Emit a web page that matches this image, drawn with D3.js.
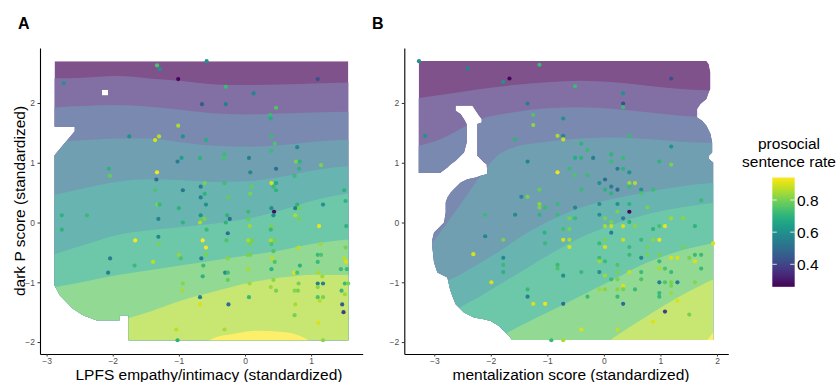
<!DOCTYPE html>
<html>
<head>
<meta charset="utf-8">
<script src="https://cdn.jsdelivr.net/npm/d3@7"></script>
<style>
  body { margin: 0; background: #fff; }
  svg { display: block; font-family: "Liberation Sans", Arial, sans-serif; }
</style>
</head>
<body>
<script>
// ---- values ----
var xTicksA = [-3, -2, -1, 0, 1];
var xTicksB = [-3, -2, -1, 0, 1, 2];
var yTicks = [-2, -1, 0, 1, 2];
var legendTicks = [0.4, 0.6, 0.8];
var rateRange = [0.26, 0.94];
var bandCount = 9;

// region where the smooth surface is drawn (panel A has a one-cell hole)
var outlineA = [[-2.88,2.70],[1.563,2.70],[1.563,-1.972],[-1.76,-1.972],[-1.76,-1.553],[-1.896,-1.553],
  [-1.896,-1.637],[-2.248,-1.637],[-2.449,-1.553],[-2.60,-1.441],[-2.70,-1.33],[-2.80,-1.218],[-2.88,-1.05],
  [-2.88,1.127],[-2.575,1.529],[-2.575,1.602],[-2.88,1.602]];
var holeA = [[-2.163,2.221],[-2.072,2.221],[-2.072,2.126],[-2.163,2.126]];

var outlineB = [[-3.275,2.703],[1.814,2.703],[1.855,2.652],[1.885,2.513],[1.885,2.234],[1.855,2.178],
  [1.814,2.066],[1.708,1.982],[1.649,1.899],[1.649,1.759],[1.737,1.703],[1.814,1.620],[1.885,1.480],
  [1.914,1.340],[1.914,1.173],[1.855,1.117],[1.855,1.061],[1.932,1.005],[1.932,-1.965],[-1.637,-1.965],
  [-1.649,-1.926],[-1.737,-1.842],[-1.855,-1.731],[-2.002,-1.647],[-2.120,-1.619],[-2.297,-1.591],
  [-2.474,-1.507],[-2.621,-1.368],[-2.680,-1.228],[-2.721,-1.116],[-2.768,-0.921],[-2.945,-0.837],
  [-3.004,-0.670],[-3.033,-0.419],[-3.033,-0.279],[-3.004,-0.167],[-2.945,-0.111],[-2.827,0.000],
  [-2.798,0.168],[-2.798,0.335],[-2.768,0.419],[-2.709,0.503],[-2.650,0.559],[-2.533,0.670],
  [-2.415,0.726],[-2.267,0.754],[-2.179,0.782],[-2.061,0.810],[-2.073,0.977],[-2.120,1.005],
  [-2.179,1.061],[-2.238,1.117],[-2.238,1.647],[-2.161,1.675],[-2.161,1.731],[-2.209,1.787],
  [-2.267,1.871],[-2.326,1.955],[-2.621,1.955],[-2.621,1.871],[-2.533,1.815],[-2.474,1.731],
  [-2.426,1.647],[-2.426,1.340],[-2.474,1.173],[-2.533,1.117],[-2.621,1.033],[-2.709,0.977],
  [-2.768,0.922],[-2.886,0.838],[-2.898,0.827],[-3.275,0.827]];

// contour band edges, top to bottom
var edgesA = [
  [[-3.0,2.411],[-2.45,2.422],[-1.95,2.450],[-1.45,2.411],[-0.95,2.367],[-0.45,2.311],[0.05,2.300],[0.55,2.311],[1.05,2.327],[1.7,2.344]],
  [[-3.0,1.920],[-2.45,1.948],[-1.95,1.965],[-1.45,1.937],[-0.95,1.881],[-0.45,1.825],[0.05,1.808],[0.55,1.825],[1.05,1.842],[1.7,1.853]],
  [[-3.0,1.350],[-2.45,1.378],[-1.95,1.406],[-1.45,1.406],[-0.95,1.339],[-0.45,1.283],[0.05,1.267],[0.55,1.295],[1.05,1.350],[1.7,1.395]],
  [[-3.0,0.429],[-2.45,0.569],[-1.95,0.680],[-1.45,0.725],[-0.95,0.708],[-0.45,0.680],[0.05,0.691],[0.55,0.764],[1.05,0.876],[1.7,0.960]],
  [[-3.0,-0.576],[-2.45,-0.381],[-1.95,-0.213],[-1.45,-0.129],[-0.95,-0.074],[-0.45,-0.018],[0.05,0.066],[0.55,0.206],[1.05,0.373],[1.7,0.513]],
  [[-3.0,-1.106],[-2.45,-0.995],[-1.95,-0.883],[-1.45,-0.799],[-0.95,-0.716],[-0.45,-0.632],[0.05,-0.548],[0.55,-0.464],[1.05,-0.353],[1.7,-0.269]],
  [[-3.0,-2.11],[-2.45,-1.832],[-1.95,-1.665],[-1.45,-1.497],[-0.95,-1.302],[-0.45,-1.151],[0.05,-1.012],[0.55,-0.922],[1.05,-0.872],[1.7,-0.883]],
  [[-3.0,-3.3],[-1.45,-2.5],[-0.69,-2.06],[-0.44,-1.92],[-0.19,-1.866],[0.17,-1.81],[0.57,-1.832],[0.87,-1.916],[1.07,-2.056],[1.7,-2.5]]
];

var edgesB = [
  [[-3.4,2.066],[-2.768,2.150],[-2.179,2.234],[-1.590,2.301],[-1.001,2.345],[-0.412,2.373],[0.177,2.345],[0.766,2.290],[1.354,2.234],[2.0,2.206]],
  [[-3.4,1.257],[-2.886,1.396],[-2.650,1.508],[-2.179,1.731],[-1.590,1.843],[-1.001,1.910],[-0.412,1.927],[0.177,1.899],[0.766,1.843],[1.354,1.787],[2.0,1.759]],
  [[-3.4,-0.670],[-3.033,-0.335],[-2.768,0.000],[-2.474,0.391],[-2.179,0.782],[-1.885,1.117],[-1.590,1.257],[-1.001,1.351],[-0.412,1.407],[0.177,1.424],[0.766,1.396],[1.354,1.351],[2.0,1.329]],
  [[-3.4,-1.452],[-3.004,-1.116],[-2.474,-0.837],[-1.885,-0.502],[-1.296,-0.139],[-0.707,0.140],[-0.118,0.335],[0.471,0.458],[1.060,0.559],[1.649,0.642],[2.0,0.670]],
  [[-3.4,-2.233],[-2.591,-1.452],[-2.179,-1.228],[-1.590,-0.893],[-1.001,-0.558],[-0.412,-0.251],[0.177,-0.028],[0.766,0.140],[1.354,0.251],[2.0,0.335]],
  [[-3.4,-3.3],[-2.768,-2.79],[-2.179,-2.121],[-1.590,-1.786],[-1.001,-1.507],[-0.412,-1.228],[0.177,-0.949],[0.766,-0.670],[1.354,-0.474],[2.0,-0.335]],
  [[-3.4,-3.5],[-1.001,-2.79],[-0.412,-2.456],[-0.118,-2.121],[0.177,-1.926],[0.766,-1.563],[1.354,-1.228],[2.0,-0.921]],
  [[1.5,-2.4],[1.83,-1.965],[2.0,-1.76]]
];

// participants: [x, dark P score, prosocial sentence rate]
var pointsA = [
  [-1.33,2.63,0.75],[-1.29,2.57,0.60],[-0.58,2.70,0.60],[-2.74,2.33,0.60],[-1.01,2.40,0.27],[1.10,2.40,0.42],[-0.29,2.27,0.72],[0.13,2.16,0.57],[-0.65,1.98,0.45],[-0.29,1.98,0.55],
  [0.47,1.92,0.75],[0.38,1.80,0.72],[0.39,1.74,0.68],[-1.01,1.62,0.85],[-1.75,1.44,0.60],[-1.30,1.44,0.87],[-1.36,1.38,0.90],[-0.94,1.44,0.60],[-0.59,1.38,0.68],[0.40,1.44,0.72],
  [0.45,1.32,0.75],[0.79,1.26,0.58],[0.40,1.20,0.72],[-0.31,1.14,0.72],[-0.32,1.08,0.74],[-0.68,1.08,0.70],[-0.96,1.08,0.65],[-1.02,1.02,0.55],[0.06,1.08,0.55],[0.77,1.02,0.80],
  [0.83,1.02,0.70],[1.15,0.96,0.80],[-2.06,0.90,0.70],[-2.04,0.78,0.78],[-1.33,0.84,0.93],[-1.34,0.72,0.50],[0.08,0.84,0.58],[0.47,0.90,0.50],[0.82,0.90,0.70],[0.75,0.78,0.72],
  [-0.61,0.66,0.80],[-0.31,0.66,0.73],[0.40,0.66,0.90],[0.47,0.66,0.67],[-0.67,0.60,0.55],[-0.94,0.54,0.52],[-1.36,0.54,0.75],[0.10,0.60,0.78],[0.43,0.60,0.72],[0.47,0.54,0.70],
  [0.08,0.48,0.80],[1.50,0.54,0.70],[-0.61,0.48,0.70],[-0.67,0.42,0.57],[-0.25,0.42,0.78],[1.52,0.36,0.70],[-0.59,0.30,0.60],[-1.33,0.30,0.80],[-1.29,0.30,0.72],[-1.00,0.24,0.70],
  [0.79,0.30,0.70],[0.76,0.24,0.55],[0.82,0.24,0.80],[1.18,0.30,0.60],[0.40,0.24,0.60],[0.44,0.18,0.28],[-2.77,0.12,0.70],[-2.39,0.12,0.72],[-0.67,0.12,0.60],[-0.65,0.06,0.78],
  [-0.61,0.06,0.80],[-1.31,0.06,0.57],[-0.23,0.06,0.50],[-0.27,0.12,0.70],[0.05,0.18,0.72],[0.05,0.06,0.78],[0.43,0.12,0.60],[0.76,0.12,0.85],[0.82,0.06,0.80],[-0.94,0.00,0.70],
  [-0.68,0.00,0.85],[-0.29,0.00,0.70],[0.07,-0.06,0.84],[0.40,-0.06,0.80],[1.12,-0.06,0.92],[1.53,-0.06,0.70],[-2.77,-0.12,0.70],[-0.58,-0.12,0.72],[-0.26,-0.18,0.50],[0.39,-0.12,0.72],
  [-1.31,-0.24,0.58],[-1.66,-0.30,0.93],[-1.30,-0.36,0.80],[-0.64,-0.30,0.94],[-0.59,-0.42,0.93],[-0.28,-0.30,0.75],[0.05,-0.30,0.85],[0.11,-0.30,0.80],[0.39,-0.30,0.85],[0.45,-0.30,0.80],
  [0.08,-0.36,0.80],[0.40,-0.36,0.75],[0.81,-0.42,0.87],[1.14,-0.36,0.84],[1.52,-0.42,0.80],[-2.04,-0.60,0.55],[-2.07,-0.84,0.55],[-1.67,-0.72,0.72],[-1.39,-0.66,0.87],[-1.00,-0.54,0.83],
  [-0.97,-0.60,0.75],[-0.66,-0.60,0.55],[-0.59,-0.54,0.80],[-0.63,-0.72,0.72],[-0.64,-0.90,0.70],[-0.26,-0.60,0.82],[-0.30,-0.84,0.58],[-0.26,-0.84,0.72],[-0.26,-0.96,0.78],[0.04,-0.54,0.80],
  [0.08,-0.54,0.80],[0.05,-0.78,0.85],[0.07,-1.02,0.84],[0.43,-0.48,0.75],[0.41,-0.60,0.87],[0.45,-0.66,0.75],[0.40,-0.78,0.70],[0.43,-0.96,0.82],[0.39,-1.08,0.84],[0.47,-1.14,0.80],
  [0.83,-0.72,0.70],[0.74,-0.84,0.90],[0.79,-0.84,0.75],[0.81,-1.02,0.80],[0.75,-1.14,0.82],[0.80,-1.14,0.80],[1.10,-0.54,0.72],[1.15,-0.54,0.75],[1.10,-0.66,0.72],[1.11,-0.84,0.85],
  [1.17,-0.90,0.84],[1.10,-1.02,0.55],[1.18,-1.02,0.55],[1.10,-1.08,0.82],[1.10,-1.25,0.75],[1.18,-1.25,0.80],[1.13,-1.31,0.87],[1.50,-0.60,0.87],[1.53,-0.66,0.90],[1.45,-0.78,0.72],
  [1.54,-0.78,0.72],[1.51,-1.02,0.72],[1.56,-1.02,0.80],[1.46,-1.14,0.72],[1.51,-1.20,0.84],[1.47,-1.37,0.45],[1.49,-1.50,0.38],[-0.94,-1.02,0.82],[-0.95,-1.14,0.85],[-0.68,-1.25,0.55],
  [-0.68,-1.37,0.90],[-0.25,-1.37,0.50],[0.06,-1.25,0.72],[0.76,-1.37,0.85],[0.75,-1.55,0.80],[1.11,-1.68,0.90],[-1.04,-1.79,0.87],[-0.31,-1.79,0.85],[-1.02,-1.97,0.70],[1.18,-1.97,0.82]
];

var pointsB = [
  [-3.27,2.70,0.60],[-2.41,2.58,0.57],[-1.14,2.64,0.72],[-1.67,2.41,0.27],[-1.78,2.35,0.60],[1.19,2.41,0.42],[-0.51,2.28,0.72],[0.34,2.16,0.60],[-1.35,1.99,0.55],[0.34,1.99,0.42],
  [0.34,1.93,0.72],[-1.25,1.80,0.75],[-0.72,1.74,0.60],[-1.25,1.63,0.82],[-3.16,1.45,0.60],[-0.82,1.45,0.85],[-0.72,1.45,0.57],[-0.72,1.39,0.88],[-1.57,1.39,0.70],[0.45,1.45,0.72],
  [-0.40,1.32,0.70],[1.19,1.27,0.60],[-0.29,1.21,0.72],[0.13,1.14,0.70],[-0.51,1.08,0.68],[-0.40,1.08,0.70],[-0.19,1.08,0.55],[0.34,1.08,0.72],[0.13,1.02,0.72],[-1.35,1.02,0.57],
  [0.98,1.02,0.70],[1.19,0.97,0.80],[-0.82,0.84,0.92],[-0.61,0.90,0.72],[0.24,0.90,0.55],[0.34,0.90,0.70],[0.45,0.84,0.60],[-0.51,0.79,0.75],[-0.29,0.79,0.72],[0.02,0.72,0.50],
  [-0.08,0.66,0.60],[0.13,0.60,0.55],[0.45,0.66,0.84],[0.55,0.66,0.86],[0.45,0.60,0.72],[0.02,0.55,0.70],[0.24,0.55,0.50],[-0.40,0.55,0.72],[0.13,0.49,0.70],[0.66,0.55,0.60],
  [0.87,0.55,0.72],[0.66,0.49,0.75],[-1.14,0.55,0.78],[-1.46,0.43,0.58],[-1.35,0.43,0.80],[1.72,0.37,0.72],[-1.14,0.31,0.82],[-1.14,0.25,0.80],[-1.04,0.25,0.72],[-0.82,0.31,0.72],
  [-0.51,0.25,0.57],[-0.08,0.31,0.60],[0.24,0.31,0.60],[0.45,0.31,0.70],[0.24,0.18,0.80],[0.45,0.18,0.27],[0.77,0.25,0.80],[-2.10,0.13,0.72],[-1.57,0.13,0.58],[-1.14,0.13,0.70],
  [-0.82,0.13,0.72],[-0.08,0.13,0.60],[-0.61,0.07,0.80],[-0.51,0.07,0.72],[0.02,0.07,0.80],[0.34,0.07,0.55],[0.13,0.01,0.80],[0.45,0.01,0.70],[0.02,-0.06,0.85],[0.13,-0.06,0.88],
  [0.34,-0.06,0.90],[0.55,-0.06,0.82],[1.19,0.07,0.84],[1.40,0.07,0.82],[0.98,-0.06,0.74],[1.08,-0.06,0.92],[1.61,-0.06,0.70],[-0.72,-0.11,0.74],[-0.61,-0.11,0.80],[-1.05,-0.17,0.70],
  [0.13,-0.17,0.55],[0.87,-0.11,0.70],[-2.10,-0.23,0.57],[-1.78,-0.29,0.80],[-0.72,-0.29,0.90],[-0.61,-0.29,0.85],[-0.08,-0.35,0.72],[0.02,-0.29,0.80],[0.34,-0.29,0.88],[0.66,-0.29,0.72],
  [0.87,-0.29,0.82],[0.98,-0.29,0.92],[-1.04,-0.35,0.72],[-0.61,-0.41,0.90],[0.02,-0.41,0.90],[0.45,-0.41,0.72],[0.77,-0.41,0.80],[1.40,-0.41,0.80],[1.93,-0.35,0.90],[-2.31,-0.53,0.90],
  [-1.78,-0.59,0.58],[-1.78,-0.71,0.72],[-1.78,-0.83,0.70],[-0.82,-0.71,0.72],[-0.82,-0.77,0.75],[-0.08,-0.59,0.72],[-0.08,-0.65,0.84],[0.02,-0.65,0.72],[0.24,-0.71,0.75],[0.45,-0.54,0.72],
  [0.66,-0.59,0.57],[0.77,-0.54,0.80],[0.98,-0.54,0.80],[0.98,-0.65,0.72],[1.19,-0.59,0.90],[1.30,-0.59,0.90],[1.51,-0.59,0.80],[1.61,-0.54,0.72],[1.72,-0.54,0.72],[1.61,-0.65,0.90],
  [1.72,-0.77,0.72],[0.98,-0.77,0.85],[1.08,-0.77,0.75],[1.19,-0.83,0.72],[0.66,-0.83,0.72],[0.45,-0.83,0.88],[0.24,-0.83,0.80],[-0.08,-0.83,0.60],[-0.40,-0.83,0.72],[-0.72,-0.89,0.60],
  [0.02,-0.89,0.84],[0.13,-0.95,0.72],[0.24,-0.95,0.80],[0.34,-1.06,0.90],[0.66,-0.95,0.75],[-1.99,-1.00,0.90],[0.98,-1.00,0.55],[1.08,-1.00,0.75],[1.19,-1.00,0.80],[1.30,-1.00,0.55],
  [1.61,-1.00,0.82],[1.19,-1.06,0.80],[-1.35,-1.12,0.72],[-1.35,-1.24,0.55],[-0.29,-1.24,0.72],[-0.08,-1.12,0.84],[0.02,-1.12,0.82],[0.24,-1.12,0.82],[0.34,-1.12,0.80],[0.24,-1.24,0.72],
  [0.55,-1.12,0.72],[0.98,-1.18,0.72],[0.98,-1.24,0.72],[1.19,-1.18,0.84],[-1.25,-1.36,0.90],[-1.04,-1.36,0.92],[-0.72,-1.36,0.50],[0.34,-1.36,0.50],[1.30,-1.31,0.90],[1.08,-1.49,0.38],
  [1.51,-1.54,0.80],[0.87,-1.66,0.90],[-0.40,-1.79,0.90],[0.24,-1.79,0.88],[-0.93,-1.97,0.72],[-0.72,-1.97,0.85]
];

// ---- drawing ----
var W = 840, H = 382;
var svg = d3.select("body").append("svg").attr("width", W).attr("height", H);
var defs = svg.append("defs");

var rateColor = d3.scaleSequential(d3.interpolateViridis).domain(rateRange);
var bandScale = d3.scaleSequential(d3.interpolateViridis).domain([0, bandCount - 1]);
function bandColor(i) {
    // contour fill is drawn at ~68% opacity over white
    return d3.interpolateRgb("#ffffff", bandScale(i))(0.68);
}

var yDomain = [-2.2, 2.92];
var tickFmt = d3.format("d");

function drawPanel(o) {
    var x = d3.scaleLinear().domain(o.xDomain).range(o.xRange);
    var y = d3.scaleLinear().domain(yDomain).range([354, 48]);
    var g = svg.append("g");

    var line = d3.line().x(function(d) { return x(d[0]); }).y(function(d) { return y(d[1]); });
    var clipD = line(o.outline) + "Z" + (o.hole ? line(o.hole) + "Z" : "");
    defs.append("clipPath").attr("id", o.id)
        .append("path").attr("d", clipD).attr("clip-rule", "evenodd");

    var fills = g.append("g").attr("clip-path", "url(#" + o.id + ")");
    fills.append("path").attr("d", clipD).attr("fill", bandColor(0));

    var area = d3.area()
        .x(function(d) { return x(d[0]); })
        .y0(y(-4))
        .y1(function(d) { return y(d[1]); })
        .curve(d3.curveMonotoneX);

    fills.selectAll("path.band").data(o.edges).join("path")
        .attr("class", "band")
        .attr("d", area)
        .attr("fill", function(d, i) { return bandColor(i + 1); });

    g.append("g").selectAll("circle").data(o.points).join("circle")
        .attr("cx", function(d) { return x(d[0]); })
        .attr("cy", function(d) { return y(d[1]); })
        .attr("r", 2.1)
        .attr("fill", function(d) { return rateColor(d[2]); });

    var xa = g.append("g").attr("transform", "translate(0," + y.range()[0] + ")")
        .call(d3.axisBottom(x).tickValues(o.xTicks).tickSize(2.5).tickSizeOuter(0).tickPadding(1).tickFormat(tickFmt));
    var ya = g.append("g").attr("transform", "translate(" + x.range()[0] + ",0)")
        .call(d3.axisLeft(y).tickValues(yTicks).tickSize(2.5).tickSizeOuter(0).tickPadding(2.5).tickFormat(tickFmt));
    [xa, ya].forEach(function(a) {
        a.select(".domain").attr("stroke", "#000").attr("stroke-width", 1.1);
        a.selectAll(".tick line").attr("stroke", "#333");
        a.selectAll(".tick text").attr("fill", "#4d4d4d").style("font-size", "8.5px")
            .style("font-family", '"Liberation Sans", Arial, sans-serif');
    });

    g.append("text").attr("x", o.titleX).attr("y", 380)
        .attr("text-anchor", "middle").style("font-size", "15.5px").text(o.title);
    g.append("text").attr("x", o.labelX).attr("y", 28.5)
        .style("font-size", "16px").style("font-weight", "bold").text(o.label);
}

drawPanel({
    id: "clipA", label: "A", labelX: 18,
    xDomain: [-3.1, 1.78], xRange: [40, 362.7], xTicks: xTicksA,
    outline: outlineA, hole: holeA, edges: edgesA, points: pointsA,
    title: "LPFS empathy/intimacy (standardized)", titleX: 209
});
drawPanel({
    id: "clipB", label: "B", labelX: 372,
    xDomain: [-3.53, 2.2], xRange: [404.3, 728.3], xTicks: xTicksB,
    outline: outlineB, edges: edgesB, points: pointsB,
    title: "mentalization score (standardized)", titleX: 571
});

svg.append("text")
    .attr("transform", "translate(25.4,201) rotate(-90)")
    .attr("text-anchor", "middle").style("font-size", "15.5px")
    .text("dark P score (standardized)");

// ---- legend ----
var lg = svg.append("g");
var ly = d3.scaleLinear().domain(rateRange).range([286.8, 177.5]);
var grad = defs.append("linearGradient").attr("id", "rateGrad")
    .attr("x1", 0).attr("y1", 1).attr("x2", 0).attr("y2", 0);
grad.selectAll("stop").data(d3.range(0, 1.0001, 0.05)).join("stop")
    .attr("offset", function(d) { return d; })
    .attr("stop-color", function(d) { return d3.interpolateViridis(d); });

lg.append("text").attr("x", 789).attr("y", 148.5).attr("text-anchor", "middle")
    .style("font-size", "15.5px").text("prosocial");
lg.append("text").attr("x", 789).attr("y", 166.5).attr("text-anchor", "middle")
    .style("font-size", "15.5px").text("sentence rate");

lg.append("rect").attr("x", 772.3).attr("y", ly.range()[1])
    .attr("width", 22.4).attr("height", ly.range()[0] - ly.range()[1])
    .attr("fill", "url(#rateGrad)");

var lt = lg.selectAll("g.lt").data(legendTicks).join("g").attr("class", "lt")
    .attr("transform", function(d) { return "translate(0," + ly(d) + ")"; });
lt.append("line").attr("x1", 772.3).attr("x2", 776.8).attr("stroke", "#fff").attr("stroke-width", 0.8);
lt.append("line").attr("x1", 790.2).attr("x2", 794.7).attr("stroke", "#fff").attr("stroke-width", 0.8);
lt.append("text").attr("x", 797).attr("dy", "0.36em").style("font-size", "15.5px")
    .text(function(d) { return d3.format(".1f")(d); });
</script>
</body>
</html>
